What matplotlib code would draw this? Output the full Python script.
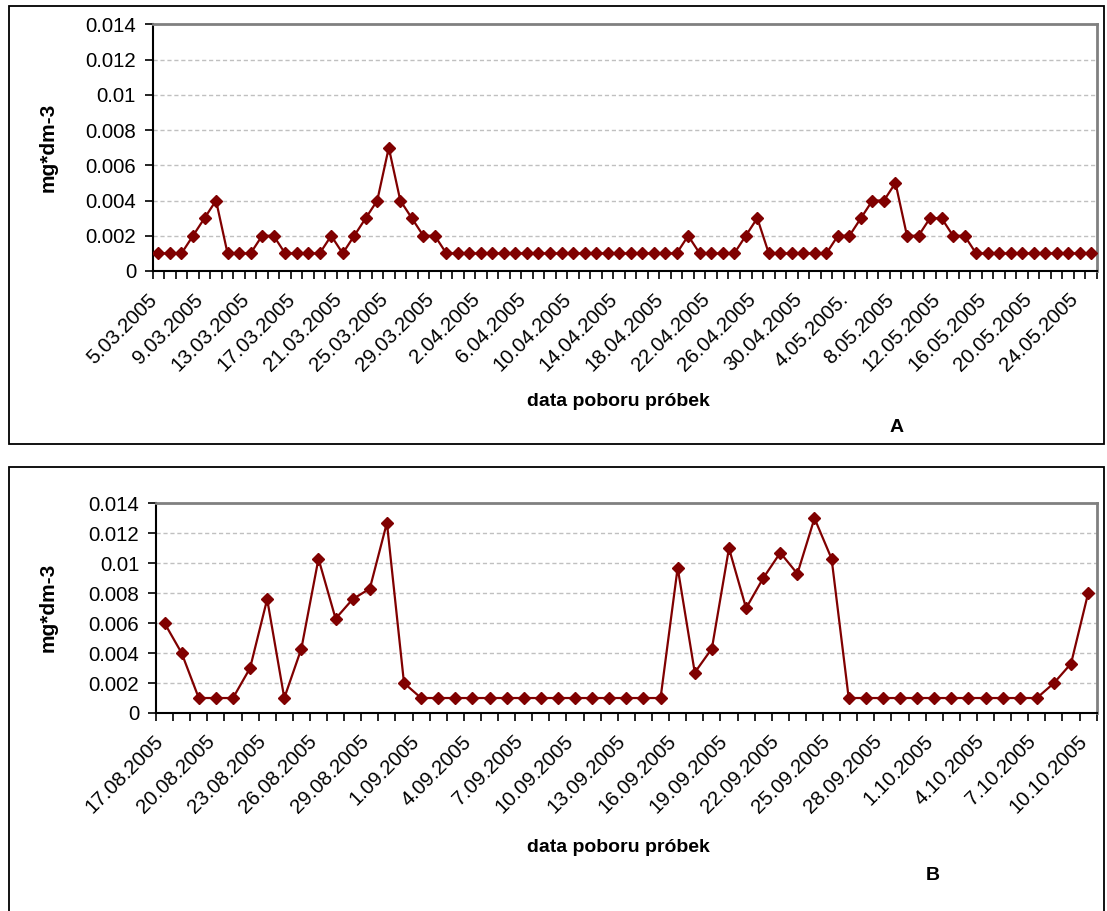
import numpy as np
import matplotlib
matplotlib.use("Agg")
import matplotlib.pyplot as plt
from matplotlib.patches import Rectangle
from matplotlib.transforms import ScaledTranslation

plt.rcParams['font.family'] = ['Liberation Sans', 'DejaVu Sans']

# ---------------- data ----------------
values_a = np.array([
    1, 1, 1, 2, 3, 4, 1, 1, 1, 2, 2, 1, 1, 1, 1, 2, 1, 2, 3, 4,
    7, 4, 3, 2, 2,
    1, 1, 1, 1, 1, 1, 1, 1, 1, 1, 1, 1, 1, 1, 1, 1, 1, 1, 1, 1, 1,
    2, 1, 1, 1, 1, 2, 3, 1, 1, 1, 1, 1, 1,
    2, 2, 3, 4, 4, 5, 2, 2, 3, 3, 2, 2,
    1, 1, 1, 1, 1, 1, 1, 1, 1, 1, 1]) * 0.001

tick_labels_a = ["5.03.2005", "9.03.2005", "13.03.2005", "17.03.2005", "21.03.2005",
                 "25.03.2005", "29.03.2005", "2.04.2005", "6.04.2005", "10.04.2005",
                 "14.04.2005", "18.04.2005", "22.04.2005", "26.04.2005", "30.04.2005",
                 "4.05.2005.", "8.05.2005", "12.05.2005", "16.05.2005", "20.05.2005",
                 "24.05.2005"]

values_b = np.array([
    0.006, 0.004, 0.001, 0.001, 0.001, 0.003, 0.0076, 0.001, 0.0043, 0.0103,
    0.0063, 0.0076, 0.0083, 0.0127, 0.002,
    0.001, 0.001, 0.001, 0.001, 0.001, 0.001, 0.001, 0.001, 0.001, 0.001,
    0.001, 0.001, 0.001, 0.001, 0.001,
    0.0097, 0.0027, 0.0043, 0.011, 0.007, 0.009, 0.0107, 0.0093, 0.013, 0.0103,
    0.001, 0.001, 0.001, 0.001, 0.001, 0.001, 0.001, 0.001, 0.001, 0.001,
    0.001, 0.001,
    0.002, 0.0033, 0.008])

tick_labels_b = ["17.08.2005", "20.08.2005", "23.08.2005", "26.08.2005", "29.08.2005",
                 "1.09.2005", "4.09.2005", "7.09.2005", "10.09.2005", "13.09.2005",
                 "16.09.2005", "19.09.2005", "22.09.2005", "25.09.2005", "28.09.2005",
                 "1.10.2005", "4.10.2005", "7.10.2005", "10.10.2005"]

y_ticks = [0, 0.002, 0.004, 0.006, 0.008, 0.01, 0.012, 0.014]
y_tick_labels = ["0", "0.002", "0.004", "0.006", "0.008", "0.01", "0.012", "0.014"]

xlabel_text = "data poboru próbek"
ylabel_text = "mg*dm-3"

# ---------------- figure ----------------
W, H = 1107, 911
fig = plt.figure(figsize=(W / 100, H / 100), dpi=100)

def fx(px):
    return px / W

def fy(py):
    return 1 - py / H

# panel frames
fig.patches.append(Rectangle((fx(8.5), fy(444)), fx(1104 - 8.5), (444 - 6.5) / H,
                             transform=fig.transFigure, fill=False,
                             edgecolor='black', linewidth=1.3))
fig.patches.append(Rectangle((fx(9), fy(920)), fx(1104 - 9), (920 - 466.5) / H,
                             transform=fig.transFigure, fill=False,
                             edgecolor='black', linewidth=1.3))

COLOR = '#800000'
FS = 14.7
XLFS = 14
YLFS = 15


def draw(ax, vals, labels, step):
    n = len(vals)
    x = np.arange(n)
    ax.plot(x, vals, color=COLOR, linewidth=1.6, marker='D', markersize=6.5,
            markerfacecolor=COLOR, markeredgecolor=COLOR, zorder=3)
    ax.set_xlim(-0.5, n - 0.5)
    ax.set_ylim(0, 0.014)
    ax.set_yticks(y_ticks)
    ax.set_yticklabels(y_tick_labels, fontsize=FS)
    ax.set_xticks([])
    ax.set_xticks(np.arange(-0.5, n, 1.0), minor=True)
    ax.tick_params(axis='x', which='minor', length=6, width=1.2, direction='out')
    ax.tick_params(axis='y', length=6, width=1.2, direction='out', pad=6)
    # category labels, rotated 45 degrees, every `step` categories
    off = ScaledTranslation(-11 / 100, -19 / 100, fig.dpi_scale_trans)
    tr = ax.get_xaxis_transform() + off
    for pos, lab in zip(np.arange(0, n, step), labels):
        ax.text(pos, 0, lab, transform=tr, rotation=45, ha='right', va='top',
                rotation_mode='anchor', fontsize=FS, clip_on=False)
    for yv in y_ticks[1:-1]:
        ax.axhline(yv, color='#c0c0c0', linewidth=1.0, linestyle=(0, (3, 2)), zorder=1)
    ax.spines['left'].set_color('black')
    ax.spines['bottom'].set_color('black')
    ax.spines['left'].set_linewidth(1.5)
    ax.spines['bottom'].set_linewidth(1.5)
    ax.spines['top'].set_color('#808080')
    ax.spines['right'].set_color('#808080')
    ax.spines['top'].set_linewidth(2.0)
    ax.spines['right'].set_linewidth(2.0)


# Panel A
axA = fig.add_axes([fx(152.7), fy(271), fx(1097 - 152.7), (271 - 24.3) / H])
draw(axA, values_a, tick_labels_a, 4)
fig.text(fx(618), fy(402), xlabel_text, ha='center', va='center',
         fontsize=XLFS, fontweight='bold')
fig.text(fx(897), fy(427), "A", ha='center', va='center', fontsize=XLFS, fontweight='bold')
fig.text(fx(48), fy(147), ylabel_text, ha='center', va='center', rotation=90,
         fontsize=YLFS, fontweight='bold')

# Panel B
axB = fig.add_axes([fx(156), fy(713), fx(1096.7 - 156), (713 - 503.3) / H])
draw(axB, values_b, tick_labels_b, 3)
fig.text(fx(618), fy(848), xlabel_text, ha='center', va='center',
         fontsize=XLFS, fontweight='bold')
fig.text(fx(933), fy(876), "B", ha='center', va='center', fontsize=XLFS, fontweight='bold')
fig.text(fx(48), fy(607), ylabel_text, ha='center', va='center', rotation=90,
         fontsize=YLFS, fontweight='bold')

fig.savefig("out.png", dpi=100)
